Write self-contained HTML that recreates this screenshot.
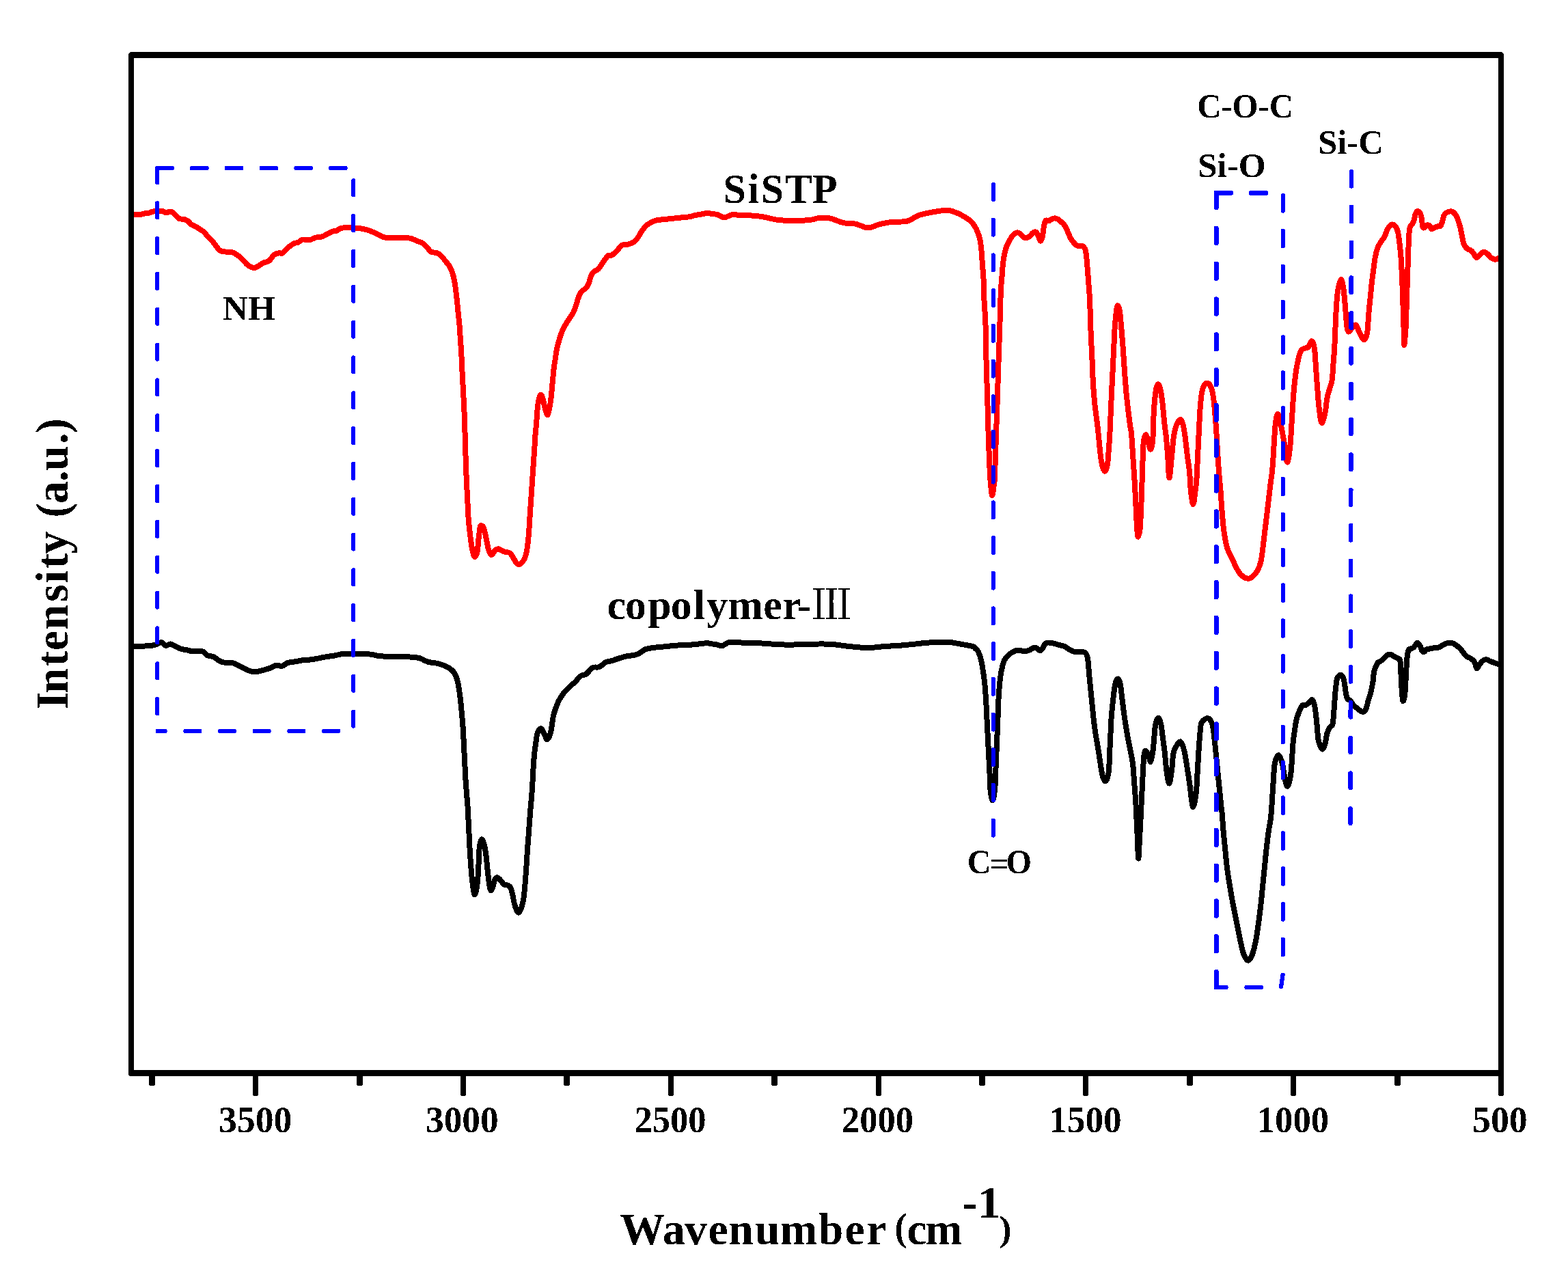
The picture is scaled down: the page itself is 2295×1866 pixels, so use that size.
<!DOCTYPE html>
<html><head><meta charset="utf-8"><title>FTIR spectra</title>
<style>html,body{margin:0;padding:0;background:#fff;}svg{display:block;}</style>
</head><body>
<svg width="2295" height="1866" viewBox="0 0 2295 1866">
<defs><filter id="aa" filterUnits="userSpaceOnUse" x="0" y="0" width="2295" height="1866" color-interpolation-filters="sRGB"><feComponentTransfer><feFuncA type="discrete" tableValues="0 1"/></feComponentTransfer></filter></defs>
<rect x="0" y="0" width="2295" height="1866" fill="#fff"/>
<path d="M191,314.2C193.17,314.2 200.65,314.48 204,314.2C207.35,313.92 208.75,312.92 211.1,312.5C213.45,312.08 216.07,312.17 218.1,311.7C220.13,311.23 220.65,310.2 223.3,309.7C225.95,309.2 231.43,308.78 234,308.7C236.57,308.62 237.13,308.73 238.7,309.2C240.27,309.67 241.83,311.42 243.4,311.5C244.97,311.58 246.7,309.93 248.1,309.7C249.5,309.47 250.25,309.17 251.8,310.1C253.35,311.03 255.68,313.65 257.4,315.3C259.12,316.95 260.07,319.07 262.1,320C264.13,320.93 267.42,320.28 269.6,320.9C271.78,321.52 273.48,322.45 275.2,323.7C276.92,324.95 277.87,326.98 279.9,328.4C281.93,329.82 285.22,330.95 287.4,332.2C289.58,333.45 291.12,334.67 293,335.9C294.88,337.13 296.98,338.03 298.7,339.6C300.42,341.17 301.28,343.1 303.3,345.3C305.32,347.5 308.6,350.3 310.8,352.8C313,355.3 314.78,358.12 316.5,360.3C318.22,362.48 319.7,364.65 321.1,365.9C322.5,367.15 323.02,367.33 324.9,367.8C326.78,368.27 330.22,368.55 332.4,368.7C334.58,368.85 335.97,368.23 338,368.7C340.03,369.17 342.42,370.25 344.6,371.5C346.78,372.75 349.08,374.48 351.1,376.2C353.12,377.92 354.67,379.77 356.7,381.8C358.73,383.83 360.8,386.68 363.3,388.4C365.8,390.12 369.2,391.95 371.7,392.1C374.2,392.25 375.95,390.55 378.3,389.3C380.65,388.05 383.18,385.9 385.8,384.6C388.42,383.3 391.45,383.42 394,381.5C396.55,379.58 398.75,374.97 401.1,373.1C403.45,371.23 406,370.77 408.1,370.3C410.2,369.83 411.35,371.72 413.7,370.3C416.05,368.88 419.38,364.15 422.2,361.8C425.02,359.45 428.27,357.37 430.6,356.2C432.93,355.03 434.1,355.73 436.2,354.8C438.3,353.87 440.38,351.18 443.2,350.6C446.02,350.02 450.05,351.77 453.1,351.3C456.15,350.83 458.47,348.62 461.5,347.8C464.53,346.98 468.48,347.22 471.3,346.4C474.12,345.58 475.82,344.2 478.4,342.9C480.98,341.6 484.47,339.43 486.8,338.6C489.13,337.77 490.53,338.6 492.4,337.9C494.27,337.2 495.65,335.22 498,334.4C500.35,333.58 503.92,333.23 506.5,333C509.08,332.77 510.93,332.88 513.5,333C516.07,333.12 518.87,333.35 521.9,333.7C524.93,334.05 528.42,334.4 531.7,335.1C534.98,335.8 538.32,336.72 541.6,337.9C544.88,339.08 548.12,340.67 551.4,342.2C554.68,343.73 558.02,346.17 561.3,347.1C564.58,348.03 567.37,347.68 571.1,347.8C574.83,347.92 579.95,347.8 583.7,347.8C587.45,347.8 590.55,347.57 593.6,347.8C596.65,348.03 599.2,348.38 602,349.2C604.8,350.02 607.58,351.53 610.4,352.7C613.22,353.87 616.32,354.45 618.9,356.2C621.48,357.95 623.8,361.1 625.9,363.2C628,365.3 629.17,367.62 631.5,368.8C633.83,369.98 637.32,369.12 639.9,370.3C642.48,371.48 644.88,373.8 647,375.9C649.12,378 650.73,380.55 652.6,382.9C654.47,385.25 656.57,387.18 658.2,390C659.83,392.82 661.17,395.83 662.4,399.8C663.63,403.77 664.62,408 665.6,413.8C666.58,419.6 667.5,427.68 668.3,434.6C669.1,441.52 669.7,448.4 670.4,455.3C671.1,462.2 671.92,469.08 672.5,476C673.08,482.92 673.43,489.88 673.9,496.8C674.37,503.72 674.92,510.58 675.3,517.5C675.68,524.42 675.87,531.38 676.2,538.3C676.53,545.22 676.93,552.1 677.3,559C677.67,565.9 678.05,572.78 678.4,579.7C678.75,586.62 679.1,593.62 679.4,600.5C679.7,607.38 679.95,613.13 680.2,621C680.45,628.87 680.63,638.65 680.9,647.7C681.17,656.75 681.48,666.08 681.8,675.3C682.12,684.52 682.4,693.78 682.8,703C683.2,712.22 683.73,721.38 684.2,730.6C684.67,739.82 685.02,750.23 685.6,758.3C686.18,766.37 686.9,772.1 687.7,779C688.5,785.9 689.48,794.17 690.4,799.7C691.32,805.23 692.32,809.75 693.2,812.2C694.08,814.65 694.78,815.33 695.7,814.4C696.62,813.47 697.85,811.35 698.7,806.6C699.55,801.85 700.1,791.88 700.8,785.9C701.5,779.92 702.22,773.48 702.9,770.7C703.58,767.92 704.1,768.97 704.9,769.2C705.7,769.43 706.65,769.32 707.7,772.1C708.75,774.88 710.05,780.83 711.2,785.9C712.35,790.97 713.45,798.23 714.6,802.5C715.75,806.77 717.07,810.12 718.1,811.5C719.13,812.88 719.65,811.83 720.8,810.8C721.95,809.77 723.62,806.57 725,805.3C726.38,804.03 727.48,803.08 729.1,803.2C730.72,803.32 732.85,805.2 734.7,806C736.55,806.8 738.25,807.43 740.2,808C742.15,808.57 744.57,808.02 746.4,809.4C748.23,810.78 749.7,814 751.2,816.3C752.7,818.6 754.02,821.57 755.4,823.2C756.78,824.83 757.88,826.33 759.5,826.1C761.12,825.87 763.48,823.88 765.1,821.8C766.72,819.72 768.05,817.28 769.2,813.6C770.35,809.92 771.18,805.47 772,799.7C772.82,793.93 773.53,785.9 774.1,779C774.67,772.1 774.95,765.22 775.4,758.3C775.85,751.38 776.33,744.42 776.8,737.5C777.27,730.58 777.73,723.72 778.2,716.8C778.67,709.88 779.13,702.92 779.6,696C780.07,689.08 780.53,682.2 781,675.3C781.47,668.4 781.95,661.52 782.4,654.6C782.85,647.68 783.25,639.57 783.7,633.8C784.15,628.03 784.63,625.55 785.1,620C785.57,614.45 785.93,606.33 786.5,600.5C787.07,594.67 787.62,588.83 788.5,585C789.38,581.17 790.72,577.5 791.8,577.5C792.88,577.5 794.05,581.75 795,585C795.95,588.25 796.37,593.35 797.5,597C798.63,600.65 800.4,608.5 801.8,606.9C803.2,605.3 804.75,595.27 805.9,587.4C807.05,579.53 807.9,567.77 808.7,559.7C809.5,551.63 810.02,544.75 810.7,539C811.38,533.25 812.1,529.82 812.8,525.2C813.5,520.58 814.08,515.45 814.9,511.3C815.72,507.15 816.67,503.98 817.7,500.3C818.73,496.62 819.83,492.67 821.1,489.2C822.37,485.73 823.8,482.5 825.3,479.5C826.8,476.5 828.38,473.95 830.1,471.2C831.82,468.45 833.98,465.53 835.6,463C837.22,460.47 838.53,458.77 839.8,456C841.07,453.23 842.05,449.85 843.2,446.4C844.35,442.95 845.43,438.53 846.7,435.3C847.97,432.07 848.97,429.3 850.8,427C852.63,424.7 855.85,423.57 857.7,421.5C859.55,419.43 860.73,417.37 861.9,414.6C863.07,411.83 863.55,407.67 864.7,404.9C865.85,402.13 866.97,399.85 868.8,398C870.63,396.15 873.08,396.63 875.7,393.8C878.32,390.97 882.07,384.3 884.5,381C886.93,377.7 888.47,375.25 890.3,374C892.13,372.75 893.27,374.8 895.5,373.5C897.73,372.2 901.3,368.62 903.7,366.2C906.1,363.78 907.67,360.37 909.9,359C912.13,357.63 914.7,358.52 917.1,358C919.5,357.48 922.07,356.93 924.3,355.9C926.53,354.87 928.62,353.68 930.5,351.8C932.38,349.92 934.05,347 935.6,344.6C937.15,342.2 938.08,339.8 939.8,337.4C941.52,335 943.85,332.08 945.9,330.2C947.95,328.32 949.68,327.38 952.1,326.1C954.52,324.82 957.65,323.28 960.4,322.5C963.15,321.72 965.52,321.75 968.6,321.4C971.68,321.05 975.63,320.73 978.9,320.4C982.17,320.07 984.93,319.75 988.2,319.4C991.47,319.05 995.07,318.65 998.5,318.3C1001.93,317.95 1005.72,317.82 1008.8,317.3C1011.88,316.78 1014.08,315.83 1017,315.2C1019.92,314.57 1023.37,314 1026.3,313.5C1029.23,313 1031.85,312.3 1034.6,312.2C1037.35,312.1 1040.23,312.57 1042.8,312.9C1045.37,313.23 1047.25,313.3 1050,314.2C1052.75,315.1 1056.72,317.9 1059.3,318.3C1061.88,318.7 1063.43,317.28 1065.5,316.6C1067.57,315.92 1069.13,314.52 1071.7,314.2C1074.27,313.88 1077.47,314.57 1080.9,314.7C1084.33,314.83 1086.68,314.62 1092.3,315C1097.92,315.38 1106.78,315.83 1114.6,317C1122.42,318.17 1131,321.03 1139.2,322C1147.4,322.97 1156.15,322.8 1163.8,322.8C1171.45,322.8 1179.37,322.6 1185.1,322C1190.83,321.4 1193.28,319.62 1198.2,319.2C1203.12,318.78 1208.58,318.35 1214.6,319.5C1220.62,320.65 1228.02,324.73 1234.3,326.1C1240.58,327.47 1246.3,326.48 1252.3,327.7C1258.3,328.92 1264.57,333.27 1270.3,333.4C1276.03,333.53 1281.23,329.87 1286.7,328.5C1292.17,327.13 1296.27,326.02 1303.1,325.2C1309.93,324.38 1320.87,325.23 1327.7,323.6C1334.53,321.97 1338.63,317.45 1344.1,315.4C1349.57,313.35 1354.22,312.53 1360.5,311.3C1366.78,310.07 1376.33,308.4 1381.8,308C1387.27,307.6 1388.38,307.4 1393.3,308.9C1398.22,310.4 1406.12,313.87 1411.3,317C1416.48,320.13 1420.85,323.18 1424.4,327.7C1427.95,332.22 1430.68,338.63 1432.6,344.1C1434.52,349.57 1435,353.15 1435.9,360.5C1436.8,367.85 1437.37,379.75 1438,388.2C1438.63,396.65 1439.33,403.57 1439.7,411.2C1440.07,418.83 1439.73,423.3 1440.2,434C1440.67,444.7 1441.93,459.28 1442.5,475.4C1443.07,491.52 1443.13,512.27 1443.6,530.7C1444.07,549.13 1444.77,567.55 1445.3,586C1445.83,604.45 1446.25,624.48 1446.8,641.4C1447.35,658.32 1448.02,675.73 1448.6,687.5C1449.18,699.27 1449.68,705.75 1450.3,712C1450.92,718.25 1451.6,725 1452.3,725C1453,725 1453.88,716.7 1454.5,712C1455.12,707.3 1455.45,708.57 1456,696.8C1456.55,685.03 1457.18,659.87 1457.8,641.4C1458.42,622.93 1459.08,604.45 1459.7,586C1460.32,567.55 1460.88,549.13 1461.5,530.7C1462.12,512.27 1462.92,490.52 1463.4,475.4C1463.88,460.28 1464.1,449.07 1464.4,440C1464.7,430.93 1464.85,426.87 1465.2,421C1465.55,415.13 1466.08,410.18 1466.5,404.8C1466.92,399.42 1467.23,393.4 1467.7,388.7C1468.17,384 1468.7,380.23 1469.3,376.6C1469.9,372.97 1470.57,369.72 1471.3,366.9C1472.03,364.08 1472.77,361.98 1473.7,359.7C1474.63,357.42 1475.82,355.22 1476.9,353.2C1477.98,351.18 1478.98,349.35 1480.2,347.6C1481.42,345.85 1482.73,343.92 1484.2,342.7C1485.67,341.48 1487.52,340.43 1489,340.3C1490.48,340.17 1491.62,340.82 1493.1,341.9C1494.58,342.98 1496.3,345.72 1497.9,346.8C1499.5,347.88 1501.08,348.67 1502.7,348.4C1504.32,348.13 1505.98,346.55 1507.6,345.2C1509.22,343.85 1510.92,341.18 1512.4,340.3C1513.88,339.42 1515.28,339.08 1516.5,339.9C1517.72,340.72 1518.7,343.12 1519.7,345.2C1520.7,347.28 1521.57,351.87 1522.5,352.4C1523.43,352.93 1524.57,350.68 1525.3,348.4C1526.03,346.12 1526.37,342.07 1526.9,338.7C1527.43,335.33 1527.82,330.88 1528.5,328.2C1529.18,325.52 1529.92,323.4 1531,322.6C1532.08,321.8 1533.67,323.67 1535,323.4C1536.33,323.13 1537.52,321.67 1539,321C1540.48,320.33 1542.28,319.4 1543.9,319.4C1545.52,319.4 1547.1,320.07 1548.7,321C1550.3,321.93 1552.02,323.67 1553.5,325C1554.98,326.33 1556.38,327.38 1557.6,329C1558.82,330.62 1559.73,332.55 1560.8,334.7C1561.87,336.85 1562.92,339.48 1564,341.9C1565.08,344.32 1566.08,347.05 1567.3,349.2C1568.52,351.35 1569.83,353.12 1571.3,354.8C1572.77,356.48 1574.48,358.48 1576.1,359.3C1577.72,360.12 1579.52,359.5 1581,359.7C1582.48,359.9 1583.8,359.7 1585,360.5C1586.2,361.3 1587.4,362.48 1588.2,364.5C1589,366.52 1589.33,369.23 1589.8,372.6C1590.27,375.97 1590.58,380 1591,384.7C1591.42,389.4 1591.88,395.43 1592.3,400.8C1592.72,406.17 1593.1,411.52 1593.5,416.9C1593.9,422.28 1594.35,426.82 1594.7,433.1C1595.05,439.38 1595.27,445.27 1595.6,454.6C1595.93,463.93 1596.23,477.58 1596.7,489.1C1597.17,500.62 1597.88,512.18 1598.4,523.7C1598.92,535.22 1599.22,547.65 1599.8,558.2C1600.38,568.75 1601.2,579.2 1601.9,587C1602.6,594.8 1603.32,599.5 1604,605C1604.68,610.5 1605.4,615.07 1606,620C1606.6,624.93 1606.75,626.42 1607.6,634.6C1608.45,642.78 1610.03,660.87 1611.1,669.1C1612.17,677.33 1612.95,680.58 1614,684C1615.05,687.42 1616.32,689.93 1617.4,689.6C1618.48,689.27 1619.73,685.42 1620.5,682C1621.27,678.58 1621.35,677 1622,669.1C1622.65,661.2 1623.82,644.45 1624.4,634.6C1624.98,624.75 1625.12,618.88 1625.5,610C1625.88,601.12 1626.22,591.85 1626.7,581.3C1627.18,570.75 1627.83,558.22 1628.4,546.7C1628.97,535.18 1629.53,523.72 1630.1,512.2C1630.67,500.68 1631.13,487.2 1631.8,477.6C1632.47,468 1633.42,459.68 1634.1,454.6C1634.78,449.52 1635.12,447.1 1635.9,447.1C1636.68,447.1 1637.93,449.52 1638.8,454.6C1639.67,459.68 1640.25,468 1641.1,477.6C1641.95,487.2 1643.05,500.68 1643.9,512.2C1644.75,523.72 1645.33,535.18 1646.2,546.7C1647.07,558.22 1647.85,569.08 1649.1,581.3C1650.35,593.52 1652.55,611.12 1653.7,620C1654.85,628.88 1655.23,626.42 1656,634.6C1656.77,642.78 1657.53,657.58 1658.3,669.1C1659.07,680.62 1659.92,692.18 1660.6,703.7C1661.28,715.22 1661.82,726.68 1662.4,738.2C1662.98,749.72 1663.53,764.88 1664.1,772.8C1664.67,780.72 1665.03,785.7 1665.8,785.7C1666.57,785.7 1667.93,780.72 1668.7,772.8C1669.47,764.88 1669.92,749.72 1670.4,738.2C1670.88,726.68 1671.22,715.22 1671.6,703.7C1671.98,692.18 1672.32,678.7 1672.7,669.1C1673.08,659.5 1673.22,651.57 1673.9,646.1C1674.58,640.63 1675.75,636.68 1676.8,636.3C1677.85,635.92 1679.05,640.25 1680.2,643.8C1681.35,647.35 1682.55,657.22 1683.7,657.6C1684.85,657.98 1686.38,652.37 1687.1,646.1C1687.82,639.83 1687.6,628.88 1688,620C1688.4,611.12 1688.83,601.13 1689.5,592.8C1690.17,584.47 1691.05,575.08 1692,570C1692.95,564.92 1694.12,562.3 1695.2,562.3C1696.28,562.3 1697.45,565.38 1698.5,570C1699.55,574.62 1700.52,581.67 1701.5,590C1702.48,598.33 1703.5,611.67 1704.4,620C1705.3,628.33 1706.1,631.97 1706.9,640C1707.7,648.03 1708.43,658.3 1709.2,668.2C1709.97,678.1 1710.53,699.4 1711.5,699.4C1712.47,699.4 1713.93,678.2 1715,668.2C1716.07,658.2 1716.75,647.07 1717.9,639.4C1719.05,631.73 1720.28,626.42 1721.9,622.2C1723.52,617.98 1725.97,614.1 1727.6,614.1C1729.23,614.1 1730.53,617.98 1731.7,622.2C1732.87,626.42 1733.55,631.73 1734.6,639.4C1735.65,647.07 1736.93,659.77 1738,668.2C1739.07,676.63 1740.17,681.47 1741,690C1741.83,698.53 1742.1,711.4 1743,719.4C1743.9,727.4 1745.33,738 1746.4,738C1747.47,738 1748.58,725.27 1749.4,719.4C1750.22,713.53 1750.7,711.33 1751.3,702.8C1751.9,694.27 1752.43,679.72 1753,668.2C1753.57,656.68 1754.12,645.22 1754.7,633.7C1755.28,622.18 1755.82,608.7 1756.5,599.1C1757.18,589.5 1757.75,582.05 1758.8,576.1C1759.85,570.15 1761.27,565.9 1762.8,563.4C1764.33,560.9 1766.37,560.52 1768,561.1C1769.63,561.68 1771.27,563.45 1772.6,566.9C1773.93,570.35 1775.05,575.47 1776,581.8C1776.95,588.13 1777.62,597.22 1778.3,604.9C1778.98,612.58 1779.52,619.27 1780.1,627.9C1780.68,636.53 1781.13,646.13 1781.8,656.7C1782.47,667.27 1783.3,680.85 1784.1,691.3C1784.9,701.75 1785.85,709.82 1786.6,719.4C1787.35,728.98 1787.78,739.02 1788.6,748.8C1789.42,758.58 1790.2,769.13 1791.5,778.1C1792.8,787.07 1794.43,796.07 1796.4,802.6C1798.37,809.13 1801.02,812.4 1803.3,817.3C1805.58,822.2 1807.82,827.92 1810.1,832C1812.38,836.08 1814.38,839.35 1817,841.8C1819.62,844.25 1823.03,846.37 1825.8,846.7C1828.57,847.03 1831.15,845.75 1833.6,843.8C1836.05,841.85 1838.53,838.6 1840.5,835C1842.47,831.4 1844.1,827.6 1845.4,822.2C1846.7,816.8 1847.33,809.95 1848.3,802.6C1849.27,795.25 1850.22,786.25 1851.2,778.1C1852.18,769.95 1853.22,761.85 1854.2,753.7C1855.18,745.55 1856.13,737.37 1857.1,729.2C1858.07,721.03 1859.18,711.23 1860,704.7C1860.82,698.17 1861.4,696 1862,690C1862.6,684 1863,677.77 1863.6,668.7C1864.2,659.63 1864.95,644.55 1865.6,635.6C1866.25,626.65 1866.62,619.87 1867.5,615C1868.38,610.13 1869.45,604.08 1870.9,606.4C1872.35,608.72 1874.55,620.73 1876.2,628.9C1877.85,637.07 1879.48,647.45 1880.8,655.4C1882.12,663.35 1882.88,676.6 1884.1,676.6C1885.32,676.6 1886.98,665.55 1888.1,655.4C1889.22,645.25 1889.92,628.93 1890.8,615.7C1891.68,602.47 1892.52,587.03 1893.4,576C1894.28,564.97 1895.1,557.23 1896.1,549.5C1897.1,541.77 1898.08,535.57 1899.4,529.6C1900.72,523.63 1902.35,517.02 1904,513.7C1905.65,510.38 1907.53,510.58 1909.3,509.7C1911.07,508.82 1912.83,510.17 1914.6,508.4C1916.37,506.63 1918.35,498.88 1919.9,499.1C1921.45,499.32 1922.9,503.52 1923.9,509.7C1924.9,515.88 1925.25,527.37 1925.9,536.2C1926.55,545.03 1927.03,552.77 1927.8,562.7C1928.57,572.63 1929.38,586.42 1930.5,595.8C1931.62,605.18 1932.95,617.88 1934.5,619C1936.05,620.12 1938.48,608.57 1939.8,602.5C1941.12,596.43 1941.3,588.35 1942.4,582.6C1943.5,576.85 1945.18,572.42 1946.4,568C1947.62,563.58 1948.82,562.5 1949.7,556.1C1950.58,549.7 1951.12,537.28 1951.7,529.6C1952.28,521.92 1952.75,518.05 1953.2,510C1953.65,501.95 1953.92,491.85 1954.4,481.3C1954.88,470.75 1955.43,456.3 1956.1,446.7C1956.77,437.1 1957.25,430.03 1958.4,423.7C1959.55,417.37 1961.65,408.7 1963,408.7C1964.35,408.7 1965.53,417.37 1966.5,423.7C1967.47,430.03 1968.03,438.07 1968.8,446.7C1969.57,455.33 1970.33,469.07 1971.1,475.5C1971.87,481.93 1972.25,484.33 1973.4,485.3C1974.55,486.27 1976.17,482.93 1978,481.3C1979.83,479.67 1982.48,474.73 1984.4,475.5C1986.32,476.27 1987.48,482.25 1989.5,485.9C1991.52,489.55 1994.57,497.22 1996.5,497.4C1998.43,497.58 1999.95,493.53 2001.1,487C2002.25,480.47 2002.63,466.83 2003.4,458.2C2004.17,449.57 2004.93,442.87 2005.7,435.2C2006.47,427.53 2007.23,418.92 2008,412.2C2008.77,405.48 2009.53,400.67 2010.3,394.9C2011.07,389.13 2011.65,382.78 2012.6,377.6C2013.55,372.42 2014.67,367.63 2016,363.8C2017.33,359.97 2018.87,357.48 2020.6,354.6C2022.33,351.72 2024.67,349.77 2026.4,346.5C2028.13,343.23 2029.27,337.98 2031,335C2032.73,332.02 2034.88,329.18 2036.8,328.6C2038.72,328.02 2040.97,329.67 2042.5,331.5C2044.03,333.33 2045.03,335.75 2046,339.6C2046.97,343.45 2047.53,348.27 2048.3,354.6C2049.07,360.93 2049.93,368 2050.6,377.6C2051.27,387.2 2051.82,400.68 2052.3,412.2C2052.78,423.72 2053.12,435.18 2053.5,446.7C2053.88,458.22 2054.32,471.6 2054.6,481.3C2054.88,491 2054.72,504.9 2055.2,504.9C2055.68,504.9 2056.92,491 2057.5,481.3C2058.08,471.6 2058.32,458.22 2058.7,446.7C2059.08,435.18 2059.42,423.72 2059.8,412.2C2060.18,400.68 2060.63,387.97 2061,377.6C2061.37,367.23 2061.58,357.43 2062,350C2062.42,342.57 2062.63,336.67 2063.5,333C2064.37,329.33 2066.15,329.92 2067.2,328C2068.25,326.08 2069.03,324 2069.8,321.5C2070.57,319 2070.92,315.08 2071.8,313C2072.68,310.92 2073.9,309 2075.1,309C2076.3,309 2078.02,310.92 2079,313C2079.98,315.08 2080.45,318.33 2081,321.5C2081.55,324.67 2081.75,330.03 2082.3,332C2082.85,333.97 2083.2,333.75 2084.3,333.3C2085.4,332.85 2087.48,329.73 2088.9,329.3C2090.32,328.87 2091.72,329.72 2092.8,330.7C2093.88,331.68 2094.32,334.77 2095.4,335.2C2096.48,335.63 2097.77,333.95 2099.3,333.3C2100.83,332.65 2103.07,331.73 2104.6,331.3C2106.13,330.87 2107.42,331.9 2108.5,330.7C2109.58,329.5 2110.33,326.52 2111.1,324.1C2111.87,321.68 2112.22,318.28 2113.1,316.2C2113.98,314.12 2115.08,312.68 2116.4,311.6C2117.72,310.52 2119.47,310.02 2121,309.7C2122.53,309.38 2124.18,309.15 2125.6,309.7C2127.02,310.25 2128.3,311.47 2129.5,313C2130.7,314.53 2131.82,316.72 2132.8,318.9C2133.78,321.08 2134.53,323.27 2135.4,326.1C2136.27,328.93 2137.23,332.63 2138,335.9C2138.77,339.17 2139.33,342.42 2140,345.7C2140.67,348.98 2141.23,353.08 2142,355.6C2142.77,358.12 2143.52,359.27 2144.6,360.8C2145.68,362.33 2147.08,363.82 2148.5,364.8C2149.92,365.78 2151.68,365.62 2153.1,366.7C2154.52,367.78 2155.68,369.55 2157,371.3C2158.32,373.05 2159.57,376.87 2161,377.2C2162.43,377.53 2163.85,374.72 2165.6,373.3C2167.35,371.88 2169.65,369.03 2171.5,368.7C2173.35,368.37 2174.85,369.88 2176.7,371.3C2178.55,372.72 2180.63,375.78 2182.6,377.2C2184.57,378.62 2186.75,379.68 2188.5,379.8C2190.25,379.92 2191.68,378.62 2193.1,377.9C2194.52,377.18 2196.35,375.9 2197,375.5" fill="none" stroke="#FF0000" stroke-width="8" stroke-linejoin="round" stroke-linecap="butt" shape-rendering="crispEdges"/>
<path d="M192,945.6C194.72,945.6 203.57,945.7 208.3,945.6C213.03,945.5 216.95,945.42 220.4,945C223.85,944.58 226.35,943.92 229,943.1C231.65,942.28 234.07,939.78 236.3,940.1C238.53,940.42 240.17,944.6 242.4,945C244.63,945.4 247.27,942.3 249.7,942.5C252.13,942.7 254.37,944.98 257,946.2C259.63,947.42 262.47,948.88 265.5,949.8C268.53,950.72 272.37,951.08 275.2,951.7C278.03,952.32 279.05,953.27 282.5,953.5C285.95,953.73 292.45,952.18 295.9,953.1C299.35,954.02 300.35,957.62 303.2,959C306.05,960.38 309.95,959.98 313,961.4C316.05,962.82 318.67,966.08 321.5,967.5C324.33,968.92 326.95,969.5 330,969.9C333.05,970.3 336.35,969.08 339.8,969.9C343.25,970.72 346.85,972.97 350.7,974.8C354.55,976.63 359.23,979.48 362.9,980.9C366.57,982.32 369.05,983.3 372.7,983.3C376.35,983.3 380.75,981.92 384.8,980.9C388.85,979.88 393.75,978.42 397,977.2C400.25,975.98 401.67,974 404.3,973.6C406.93,973.2 409.95,975.42 412.8,974.8C415.65,974.18 417.95,971.02 421.4,969.9C424.85,968.78 429.45,968.8 433.5,968.1C437.55,967.4 442.58,966.1 445.7,965.7C448.82,965.3 449.08,966.02 452.2,965.7C455.32,965.38 460.35,964.52 464.4,963.8C468.45,963.08 472.45,962.1 476.5,961.4C480.55,960.7 484.63,960.32 488.7,959.6C492.77,958.88 497.65,957.62 500.9,957.1C504.15,956.58 504.15,956.5 508.2,956.5C512.25,956.5 519.32,956.9 525.2,957.1C531.08,957.3 538.42,957.18 543.5,957.7C548.58,958.22 550.63,959.68 555.7,960.2C560.77,960.72 566.8,960.6 573.9,960.8C581,961 591.6,961 598.3,961.4C605,961.8 609.43,961.98 614.1,963.2C618.77,964.42 621.83,967.38 626.3,968.7C630.77,970.02 636.23,969.88 640.9,971.1C645.57,972.32 650.65,974.17 654.3,976C657.95,977.83 660.57,979.67 662.8,982.1C665.03,984.53 666.43,987.62 667.7,990.6C668.97,993.58 669.38,994.6 670.4,1000C671.42,1005.4 672.85,1015.32 673.8,1023C674.75,1030.68 675.42,1038.42 676.1,1046.1C676.78,1053.78 677.42,1061.42 677.9,1069.1C678.38,1076.78 678.62,1084.52 679,1092.2C679.38,1099.88 679.82,1107.53 680.2,1115.2C680.58,1122.87 680.83,1130.52 681.3,1138.2C681.77,1145.88 682.47,1154.33 683,1161.3C683.53,1168.27 683.98,1171.7 684.5,1180C685.02,1188.3 685.58,1200.73 686.1,1211.1C686.62,1221.47 687,1231.83 687.6,1242.2C688.2,1252.57 689,1264.65 689.7,1273.3C690.4,1281.95 690.93,1288.05 691.8,1294.1C692.67,1300.15 693.78,1309.6 694.9,1309.6C696.02,1309.6 697.63,1300.15 698.5,1294.1C699.37,1288.05 699.67,1280.22 700.1,1273.3C700.53,1266.38 700.77,1258.65 701.1,1252.6C701.43,1246.55 701.4,1241.07 702.1,1237C702.8,1232.93 704.17,1228.2 705.3,1228.2C706.43,1228.2 707.87,1232.93 708.9,1237C709.93,1241.07 710.72,1246.55 711.5,1252.6C712.28,1258.65 712.83,1266.38 713.6,1273.3C714.37,1280.22 715.25,1289.08 716.1,1294.1C716.95,1299.12 717.65,1303.4 718.7,1303.4C719.75,1303.4 721.45,1296.87 722.4,1294.1C723.35,1291.33 723.45,1288.45 724.4,1286.8C725.35,1285.15 726.8,1284.03 728.1,1284.2C729.4,1284.37 730.65,1286.15 732.2,1287.8C733.75,1289.45 735.67,1292.8 737.4,1294.1C739.13,1295.4 741.05,1294.92 742.6,1295.6C744.15,1296.28 745.5,1296.22 746.7,1298.2C747.9,1300.18 748.75,1303.35 749.8,1307.5C750.85,1311.65 751.95,1319.02 753,1323.1C754.05,1327.18 755.07,1329.93 756.1,1332C757.13,1334.07 758,1336.12 759.2,1335.5C760.4,1334.88 762.1,1331.75 763.3,1328.3C764.5,1324.85 765.53,1320.5 766.4,1314.8C767.27,1309.1 767.88,1301.02 768.5,1294.1C769.12,1287.18 769.5,1281.95 770.1,1273.3C770.7,1264.65 771.5,1250.83 772.1,1242.2C772.7,1233.57 773.18,1228.42 773.7,1221.5C774.22,1214.58 774.68,1207.62 775.2,1200.7C775.72,1193.78 776.42,1184.65 776.8,1180C777.18,1175.35 777.1,1177.83 777.5,1172.8C777.9,1167.77 778.72,1157.48 779.2,1149.8C779.68,1142.12 779.92,1134.38 780.4,1126.7C780.88,1119.02 781.43,1110.42 782.1,1103.7C782.77,1096.98 783.63,1091.58 784.4,1086.4C785.17,1081.22 785.45,1075.97 786.7,1072.6C787.95,1069.23 790.27,1066.02 791.9,1066.2C793.53,1066.38 795.05,1071 796.5,1073.7C797.95,1076.4 799.15,1082.2 800.6,1082.4C802.05,1082.6 804.05,1078.07 805.2,1074.9C806.35,1071.73 806.73,1067.82 807.5,1063.4C808.27,1058.98 808.85,1052.82 809.8,1048.4C810.75,1043.98 812.05,1040.3 813.2,1036.9C814.35,1033.5 815.37,1030.83 816.7,1028C818.03,1025.17 819.5,1022.55 821.2,1019.9C822.9,1017.25 824.65,1014.72 826.9,1012.1C829.15,1009.48 832.08,1006.65 834.7,1004.2C837.32,1001.75 840.17,999.83 842.6,997.4C845.03,994.97 846.68,991.47 849.3,989.6C851.92,987.73 855.3,988.27 858.3,986.2C861.3,984.13 864.12,978.88 867.3,977.2C870.48,975.52 874.22,977.42 877.4,976.1C880.58,974.78 883.4,970.8 886.4,969.3C889.4,967.8 892.22,968.03 895.4,967.1C898.58,966.17 901.93,964.82 905.5,963.7C909.07,962.58 912.85,961.23 916.8,960.4C920.75,959.57 926.02,959.45 929.2,958.7C932.38,957.95 933.28,957.32 935.9,955.9C938.52,954.48 941.53,951.52 944.9,950.2C948.27,948.88 951.42,948.65 956.1,948C960.78,947.35 967.37,946.87 973,946.3C978.63,945.73 984.28,944.98 989.9,944.6C995.52,944.22 1001.08,944.37 1006.7,944C1012.32,943.63 1018.92,942.87 1023.6,942.4C1028.28,941.93 1032.07,941.25 1034.8,941.2C1037.53,941.15 1037.57,941.73 1040,942.1C1042.43,942.47 1046.58,942.87 1049.4,943.4C1052.22,943.93 1053.78,945.92 1056.9,945.3C1060.02,944.68 1063.12,940.48 1068.1,939.7C1073.08,938.92 1079,940.3 1086.8,940.6C1094.6,940.9 1105.53,941.03 1114.9,941.5C1124.27,941.97 1133.63,943.08 1143,943.4C1152.37,943.72 1161.72,943.55 1171.1,943.4C1180.48,943.25 1191.48,942.58 1199.3,942.5C1207.12,942.42 1211.77,942.43 1218,942.9C1224.23,943.37 1230.45,944.58 1236.7,945.3C1242.95,946.02 1249.57,946.73 1255.5,947.2C1261.43,947.67 1266.07,948.27 1272.3,948.1C1278.53,947.93 1284.78,946.82 1292.9,946.2C1301.02,945.58 1313.18,945.02 1321,944.4C1328.82,943.78 1333.55,943.13 1339.8,942.5C1346.05,941.87 1350.7,941.07 1358.5,940.6C1366.3,940.13 1378.8,939.38 1386.6,939.7C1394.4,940.02 1399.05,941.42 1405.3,942.5C1411.55,943.58 1420.32,945.03 1424.1,946.2C1427.88,947.37 1426.68,948.2 1428,949.5C1429.32,950.8 1430.67,951.25 1432,954C1433.33,956.75 1434.92,961.68 1436,966C1437.08,970.32 1437.63,974.28 1438.5,979.9C1439.37,985.52 1440.42,991.98 1441.2,999.7C1441.98,1007.42 1442.65,1017.37 1443.2,1026.2C1443.75,1035.03 1444.07,1043.87 1444.5,1052.7C1444.93,1061.53 1445.35,1070.37 1445.8,1079.2C1446.25,1088.03 1446.75,1096.87 1447.2,1105.7C1447.65,1114.53 1448.07,1123.37 1448.5,1132.2C1448.93,1141.03 1449.03,1152.18 1449.8,1158.7C1450.57,1165.22 1452,1172.42 1453.1,1171.3C1454.2,1170.18 1455.63,1160.72 1456.4,1152C1457.17,1143.28 1457.25,1130.03 1457.7,1119C1458.15,1107.97 1458.65,1096.85 1459.1,1085.8C1459.55,1074.75 1459.97,1063.73 1460.4,1052.7C1460.83,1041.67 1461.18,1028.88 1461.7,1019.6C1462.22,1010.32 1462.92,1002.85 1463.5,997C1464.08,991.15 1464.57,988.2 1465.2,984.5C1465.83,980.8 1466.55,977.75 1467.3,974.8C1468.05,971.85 1468.5,969.22 1469.7,966.8C1470.9,964.38 1472.75,962.18 1474.5,960.3C1476.25,958.42 1478.18,956.83 1480.2,955.5C1482.22,954.17 1484.32,952.83 1486.6,952.3C1488.88,951.77 1491.62,952.17 1493.9,952.3C1496.18,952.43 1498.15,953.23 1500.3,953.1C1502.45,952.97 1504.92,952.25 1506.8,951.5C1508.68,950.75 1509.98,949.15 1511.6,948.6C1513.22,948.05 1514.75,947.58 1516.5,948.2C1518.25,948.82 1520.5,952.17 1522.1,952.3C1523.7,952.43 1524.88,950.62 1526.1,949C1527.32,947.38 1528.18,944 1529.4,942.6C1530.62,941.2 1531.67,940.87 1533.4,940.6C1535.13,940.33 1537.78,940.67 1539.8,941C1541.82,941.33 1543.35,942 1545.5,942.6C1547.65,943.2 1550.42,943.93 1552.7,944.6C1554.98,945.27 1557.18,945.6 1559.2,946.6C1561.22,947.6 1562.52,949.38 1564.8,950.6C1567.08,951.82 1570.2,953.35 1572.9,953.9C1575.6,954.45 1578.58,953.77 1581,953.9C1583.42,954.03 1585.8,953.9 1587.4,954.7C1589,955.5 1589.72,956.42 1590.6,958.7C1591.48,960.98 1592.15,964.1 1592.7,968.4C1593.25,972.7 1593.43,979.13 1593.9,984.5C1594.37,989.87 1594.97,995.22 1595.5,1000.6C1596.03,1005.98 1596.57,1011.42 1597.1,1016.8C1597.63,1022.18 1598.17,1027.53 1598.7,1032.9C1599.23,1038.27 1599.82,1044.48 1600.3,1049C1600.78,1053.52 1601.07,1055.83 1601.6,1060C1602.13,1064.17 1602.45,1067.4 1603.5,1074C1604.55,1080.6 1606.5,1090.92 1607.9,1099.6C1609.3,1108.28 1610.8,1119.7 1611.9,1126.1C1613,1132.5 1613.52,1135.13 1614.5,1138C1615.48,1140.87 1616.72,1143.3 1617.8,1143.3C1618.88,1143.3 1620.12,1140.87 1621,1138C1621.88,1135.13 1622.57,1132.43 1623.1,1126.1C1623.63,1119.77 1623.87,1107.2 1624.2,1100C1624.53,1092.8 1624.7,1091.13 1625.1,1082.9C1625.5,1074.67 1625.82,1061.35 1626.6,1050.6C1627.38,1039.85 1628.82,1026.83 1629.8,1018.4C1630.78,1009.97 1631.42,1004.17 1632.5,1000C1633.58,995.83 1635.13,993.4 1636.3,993.4C1637.47,993.4 1638.57,995.83 1639.5,1000C1640.43,1004.17 1640.82,1009.97 1641.9,1018.4C1642.98,1026.83 1644.52,1040.33 1646,1050.6C1647.48,1060.87 1649.32,1071.77 1650.8,1080C1652.28,1088.23 1653.67,1093.42 1654.9,1100C1656.13,1106.58 1657.32,1111.83 1658.2,1119.5C1659.08,1127.17 1659.53,1137.17 1660.2,1146C1660.87,1154.83 1661.65,1163.68 1662.2,1172.5C1662.75,1181.32 1663.07,1190.08 1663.5,1198.9C1663.93,1207.72 1664.35,1215.78 1664.8,1225.4C1665.25,1235.02 1665.65,1256.6 1666.2,1256.6C1666.75,1256.6 1667.55,1235.02 1668.1,1225.4C1668.65,1215.78 1669.05,1207.72 1669.5,1198.9C1669.95,1190.08 1670.37,1181.32 1670.8,1172.5C1671.23,1163.68 1671.67,1154.83 1672.1,1146C1672.53,1137.17 1672.95,1126.57 1673.4,1119.5C1673.85,1112.43 1674.23,1107.03 1674.8,1103.6C1675.37,1100.17 1675.7,1098.47 1676.8,1098.9C1677.9,1099.33 1680.2,1103.55 1681.4,1106.2C1682.6,1108.85 1683,1115.9 1684,1114.8C1685,1113.7 1686.52,1105.45 1687.4,1099.6C1688.28,1093.75 1688.65,1086.32 1689.3,1079.7C1689.95,1073.08 1690.3,1064.75 1691.3,1059.9C1692.3,1055.05 1693.97,1050.6 1695.3,1050.6C1696.63,1050.6 1698.2,1055.05 1699.3,1059.9C1700.4,1064.75 1701.02,1073.08 1701.9,1079.7C1702.78,1086.32 1703.72,1091.87 1704.6,1099.6C1705.48,1107.33 1706.1,1118.27 1707.2,1126.1C1708.3,1133.93 1709.87,1146.6 1711.2,1146.6C1712.53,1146.6 1714.2,1133.27 1715.2,1126.1C1716.2,1118.93 1716.22,1109.12 1717.2,1103.6C1718.18,1098.08 1719.32,1096.02 1721.1,1093C1722.88,1089.98 1725.87,1084.53 1727.9,1085.5C1729.93,1086.47 1731.7,1092.55 1733.3,1098.8C1734.9,1105.05 1736.18,1114.93 1737.5,1123C1738.82,1131.07 1740.08,1139.13 1741.2,1147.2C1742.32,1155.27 1743.3,1165.85 1744.2,1171.4C1745.1,1176.95 1745.5,1182.52 1746.6,1180.5C1747.7,1178.48 1749.78,1167.87 1750.8,1159.3C1751.82,1150.73 1752.08,1139.18 1752.7,1129.1C1753.32,1119.02 1753.9,1107.87 1754.5,1098.8C1755.1,1089.73 1755.6,1081.55 1756.3,1074.7C1757,1067.85 1756.78,1061.63 1758.7,1057.7C1760.62,1053.77 1765.18,1050.7 1767.8,1051.1C1770.42,1051.5 1772.8,1055.17 1774.4,1060.1C1776,1065.03 1776.48,1073.23 1777.4,1080.7C1778.32,1088.17 1779.08,1096.83 1779.9,1104.9C1780.72,1112.97 1781.5,1121.03 1782.3,1129.1C1783.1,1137.17 1783.9,1145.25 1784.7,1153.3C1785.5,1161.35 1786.45,1171.28 1787.1,1177.4C1787.75,1183.52 1788.02,1183.48 1788.6,1190C1789.18,1196.52 1789.83,1207.67 1790.6,1216.5C1791.37,1225.33 1792.32,1234.17 1793.2,1243C1794.08,1251.83 1794.78,1260.67 1795.9,1269.5C1797.02,1278.33 1798.47,1287.17 1799.9,1296C1801.33,1304.83 1802.85,1313.68 1804.5,1322.5C1806.15,1331.32 1808.03,1340.08 1809.8,1348.9C1811.57,1357.72 1813.33,1367.45 1815.1,1375.4C1816.87,1383.35 1818.42,1391.52 1820.4,1396.6C1822.38,1401.68 1824.9,1405.9 1827,1405.9C1829.1,1405.9 1831.12,1401.68 1833,1396.6C1834.88,1391.52 1836.75,1383.35 1838.3,1375.4C1839.85,1367.45 1841.08,1357.72 1842.3,1348.9C1843.52,1340.08 1844.62,1331.32 1845.6,1322.5C1846.58,1313.68 1847.32,1304.83 1848.2,1296C1849.08,1287.17 1850.02,1278.33 1850.9,1269.5C1851.78,1260.67 1852.52,1251.83 1853.5,1243C1854.48,1234.17 1855.68,1224.5 1856.8,1216.5C1857.92,1208.5 1859.22,1204.53 1860.2,1195C1861.18,1185.47 1861.88,1171.3 1862.7,1159.3C1863.52,1147.3 1864.3,1131.07 1865.1,1123C1865.9,1114.93 1866.38,1113.82 1867.5,1110.9C1868.62,1107.98 1870.23,1104.4 1871.8,1105.5C1873.37,1106.6 1875.57,1112.57 1876.9,1117.5C1878.23,1122.43 1878.58,1129.55 1879.8,1135.1C1881.02,1140.65 1882.73,1150.47 1884.2,1150.8C1885.67,1151.13 1887.53,1142.65 1888.6,1137.1C1889.67,1131.55 1889.95,1125.67 1890.6,1117.5C1891.25,1109.33 1891.77,1096.27 1892.5,1088.1C1893.23,1079.93 1894.18,1074.22 1895,1068.5C1895.82,1062.78 1896.35,1058.2 1897.4,1053.8C1898.45,1049.4 1899.83,1045.68 1901.3,1042.1C1902.77,1038.52 1904.57,1034.02 1906.2,1032.3C1907.83,1030.58 1909.47,1032.45 1911.1,1031.8C1912.73,1031.15 1914.45,1029.7 1916,1028.4C1917.55,1027.1 1919.1,1023.52 1920.4,1024C1921.7,1024.48 1922.9,1027.95 1923.8,1031.3C1924.7,1034.65 1925.13,1038.72 1925.8,1044.1C1926.47,1049.48 1927.15,1057.08 1927.8,1063.6C1928.45,1070.12 1928.48,1077.73 1929.7,1083.2C1930.92,1088.67 1933.47,1095.58 1935.1,1096.4C1936.73,1097.22 1938.28,1091.93 1939.5,1088.1C1940.72,1084.27 1941.25,1077.32 1942.4,1073.4C1943.55,1069.48 1945.08,1066.72 1946.4,1064.6C1947.72,1062.48 1949.4,1063.3 1950.3,1060.7C1951.2,1058.1 1951.32,1054.22 1951.8,1049C1952.28,1043.78 1952.75,1035.57 1953.2,1029.4C1953.65,1023.23 1954.12,1016.4 1954.5,1012C1954.88,1007.6 1955.03,1006.23 1955.5,1003C1955.97,999.77 1956.2,995.1 1957.3,992.6C1958.4,990.1 1960.6,988 1962.1,988C1963.6,988 1965.27,990.1 1966.3,992.6C1967.33,995.1 1967.73,999.55 1968.3,1003C1968.87,1006.45 1969.12,1010.08 1969.7,1013.3C1970.28,1016.52 1970.75,1020.33 1971.8,1022.3C1972.85,1024.27 1974.62,1023.67 1976,1025.1C1977.38,1026.53 1978.6,1029.17 1980.1,1030.9C1981.6,1032.63 1983.45,1034.15 1985,1035.5C1986.55,1036.85 1987.87,1037.95 1989.4,1039C1990.93,1040.05 1992.68,1041.72 1994.2,1041.8C1995.72,1041.88 1997.37,1041.13 1998.5,1039.5C1999.63,1037.87 2000.25,1034.58 2001,1032C2001.75,1029.42 2002.22,1026.63 2003,1024C2003.78,1021.37 2004.88,1019.18 2005.7,1016.2C2006.52,1013.22 2007.23,1009.47 2007.9,1006.1C2008.57,1002.73 2009.15,999.98 2009.7,996C2010.25,992.02 2010.48,985.65 2011.2,982.2C2011.92,978.75 2013.08,977.37 2014,975.3C2014.92,973.23 2015.43,971.18 2016.7,969.8C2017.97,968.42 2019.98,968.15 2021.6,967C2023.22,965.85 2024.9,964.28 2026.4,962.9C2027.9,961.52 2029.1,959.52 2030.6,958.7C2032.1,957.88 2033.9,957.77 2035.4,958C2036.9,958.23 2038.1,959.28 2039.6,960.1C2041.1,960.92 2042.92,962.1 2044.4,962.9C2045.88,963.7 2047.58,963.4 2048.5,964.9C2049.42,966.4 2049.55,967.87 2049.9,971.9C2050.25,975.93 2050.3,982.77 2050.6,989.1C2050.9,995.43 2051.23,1003.78 2051.7,1009.9C2052.17,1016.02 2052.67,1024.65 2053.4,1025.8C2054.13,1026.95 2055.42,1021.77 2056.1,1016.8C2056.78,1011.83 2057.08,1002.92 2057.5,996C2057.92,989.08 2058.25,981.05 2058.6,975.3C2058.95,969.55 2059.08,965.53 2059.6,961.5C2060.12,957.47 2060.77,953.1 2061.7,951.1C2062.63,949.1 2063.95,950.1 2065.2,949.5C2066.45,948.9 2067.67,948.92 2069.2,947.5C2070.73,946.08 2072.77,941.22 2074.4,941C2076.03,940.78 2077.8,944.23 2079,946.2C2080.2,948.17 2080.72,951.48 2081.6,952.8C2082.48,954.12 2083.2,954.53 2084.3,954.1C2085.4,953.67 2086.78,950.97 2088.2,950.2C2089.62,949.43 2090.95,949.83 2092.8,949.5C2094.65,949.17 2097.12,948.53 2099.3,948.2C2101.48,947.87 2103.7,948.27 2105.9,947.5C2108.1,946.73 2110.32,944.68 2112.5,943.6C2114.68,942.52 2116.82,941.43 2119,941C2121.18,940.57 2123.42,940.35 2125.6,941C2127.78,941.65 2130.13,943.48 2132.1,944.9C2134.07,946.32 2135.75,947.75 2137.4,949.5C2139.05,951.25 2140.47,953.53 2142,955.4C2143.53,957.27 2144.75,959.28 2146.6,960.7C2148.45,962.12 2151.13,962.48 2153.1,963.9C2155.07,965.32 2156.98,966.78 2158.4,969.2C2159.82,971.62 2160.4,977.85 2161.6,978.4C2162.8,978.95 2164.17,974.37 2165.6,972.5C2167.03,970.63 2168.57,968.42 2170.2,967.2C2171.83,965.98 2173.55,965.08 2175.4,965.2C2177.25,965.32 2179.22,967.07 2181.3,967.9C2183.38,968.73 2186.03,969.55 2187.9,970.2C2189.77,970.85 2190.98,971.33 2192.5,971.8C2194.02,972.27 2196.25,972.8 2197,973" fill="none" stroke="#000000" stroke-width="8" stroke-linejoin="round" stroke-linecap="butt" shape-rendering="crispEdges"/>
<g stroke="#0000FF" stroke-linecap="butt" fill="none">
</g>
<g fill="#0000FF" shape-rendering="crispEdges">
<rect x="227" y="242.95" width="27.8" height="6.3" rx="2.4"/><rect x="277.9" y="242.95" width="27.6" height="6.3" rx="2.4"/><rect x="328.7" y="242.95" width="27.6" height="6.3" rx="2.4"/><rect x="379.5" y="242.95" width="27.6" height="6.3" rx="2.4"/><rect x="430.3" y="242.95" width="27.6" height="6.3" rx="2.4"/><rect x="481.1" y="242.95" width="27.6" height="6.3" rx="2.4"/><rect x="227.15" y="242.8" width="6.3" height="27.4" rx="2.4"/><rect x="227.15" y="294.2" width="6.3" height="27" rx="2.4"/><rect x="227.15" y="346.05" width="6.3" height="27" rx="2.4"/><rect x="227.15" y="397.9" width="6.3" height="27" rx="2.4"/><rect x="227.15" y="449.75" width="6.3" height="27" rx="2.4"/><rect x="227.15" y="501.6" width="6.3" height="27" rx="2.4"/><rect x="227.15" y="553.45" width="6.3" height="27" rx="2.4"/><rect x="227.15" y="605.3" width="6.3" height="27" rx="2.4"/><rect x="227.15" y="657.15" width="6.3" height="27" rx="2.4"/><rect x="227.15" y="709" width="6.3" height="27" rx="2.4"/><rect x="227.15" y="760.85" width="6.3" height="27" rx="2.4"/><rect x="227.15" y="812.7" width="6.3" height="27" rx="2.4"/><rect x="227.15" y="864.55" width="6.3" height="27" rx="2.4"/><rect x="227.15" y="916.4" width="6.3" height="27" rx="2.4"/><rect x="227.15" y="968.25" width="6.3" height="27" rx="2.4"/><rect x="227.15" y="1020.1" width="6.3" height="27" rx="2.4"/><rect x="514.15" y="261.3" width="6.3" height="27" rx="2.4"/><rect x="514.15" y="313.12" width="6.3" height="27" rx="2.4"/><rect x="514.15" y="364.94" width="6.3" height="27" rx="2.4"/><rect x="514.15" y="416.76" width="6.3" height="27" rx="2.4"/><rect x="514.15" y="468.58" width="6.3" height="27" rx="2.4"/><rect x="514.15" y="520.4" width="6.3" height="27" rx="2.4"/><rect x="514.15" y="572.22" width="6.3" height="27" rx="2.4"/><rect x="514.15" y="624.04" width="6.3" height="27" rx="2.4"/><rect x="514.15" y="675.86" width="6.3" height="27" rx="2.4"/><rect x="514.15" y="727.68" width="6.3" height="27" rx="2.4"/><rect x="514.15" y="779.5" width="6.3" height="27" rx="2.4"/><rect x="514.15" y="831.32" width="6.3" height="27" rx="2.4"/><rect x="514.15" y="883.14" width="6.3" height="27" rx="2.4"/><rect x="514.15" y="934.96" width="6.3" height="27" rx="2.4"/><rect x="514.15" y="986.78" width="6.3" height="27" rx="2.4"/><rect x="514.15" y="1038.6" width="6.3" height="27" rx="2.4"/><rect x="227.8" y="1066.85" width="16.9" height="6.3" rx="2.4"/><rect x="268.3" y="1066.85" width="27" height="6.3" rx="2.4"/><rect x="319" y="1066.85" width="27" height="6.3" rx="2.4"/><rect x="369.7" y="1066.85" width="27" height="6.3" rx="2.4"/><rect x="420.4" y="1066.85" width="27" height="6.3" rx="2.4"/><rect x="471.1" y="1066.85" width="27" height="6.3" rx="2.4"/><rect x="1450.9" y="267" width="6" height="28" rx="2.4"/><rect x="1450.9" y="318.7" width="6" height="28" rx="2.4"/><rect x="1450.9" y="370.4" width="6" height="28" rx="2.4"/><rect x="1450.9" y="422.1" width="6" height="28" rx="2.4"/><rect x="1450.9" y="473.8" width="6" height="28" rx="2.4"/><rect x="1450.9" y="525.5" width="6" height="28" rx="2.4"/><rect x="1450.9" y="577.2" width="6" height="28" rx="2.4"/><rect x="1450.9" y="628.9" width="6" height="28" rx="2.4"/><rect x="1450.9" y="680.6" width="6" height="28" rx="2.4"/><rect x="1450.9" y="732.3" width="6" height="28" rx="2.4"/><rect x="1450.9" y="784" width="6" height="28" rx="2.4"/><rect x="1450.9" y="835.7" width="6" height="28" rx="2.4"/><rect x="1450.9" y="887.4" width="6" height="28" rx="2.4"/><rect x="1450.9" y="939.1" width="6" height="28" rx="2.4"/><rect x="1450.9" y="990.8" width="6" height="28" rx="2.4"/><rect x="1450.9" y="1042.5" width="6" height="28" rx="2.4"/><rect x="1450.9" y="1094.2" width="6" height="28" rx="2.4"/><rect x="1450.9" y="1145.9" width="6" height="28" rx="2.4"/><rect x="1450.9" y="1197.6" width="6" height="28" rx="2.4"/><rect x="1776.9" y="278.9" width="6.8" height="28.1" rx="2.4"/><rect x="1776.9" y="330.8" width="6.8" height="28.2" rx="2.4"/><rect x="1776.9" y="382.62" width="6.8" height="28.2" rx="2.4"/><rect x="1776.9" y="434.44" width="6.8" height="28.2" rx="2.4"/><rect x="1776.9" y="486.26" width="6.8" height="28.2" rx="2.4"/><rect x="1776.9" y="538.08" width="6.8" height="28.2" rx="2.4"/><rect x="1776.9" y="589.9" width="6.8" height="28.2" rx="2.4"/><rect x="1776.9" y="641.72" width="6.8" height="28.2" rx="2.4"/><rect x="1776.9" y="693.54" width="6.8" height="28.2" rx="2.4"/><rect x="1776.9" y="745.36" width="6.8" height="28.2" rx="2.4"/><rect x="1776.9" y="797.18" width="6.8" height="28.2" rx="2.4"/><rect x="1776.9" y="849" width="6.8" height="28.2" rx="2.4"/><rect x="1776.9" y="900.82" width="6.8" height="28.2" rx="2.4"/><rect x="1776.9" y="952.64" width="6.8" height="28.2" rx="2.4"/><rect x="1776.9" y="1004.46" width="6.8" height="28.2" rx="2.4"/><rect x="1776.9" y="1056.28" width="6.8" height="28.2" rx="2.4"/><rect x="1776.9" y="1108.1" width="6.8" height="28.2" rx="2.4"/><rect x="1776.9" y="1159.92" width="6.8" height="28.2" rx="2.4"/><rect x="1776.9" y="1211.74" width="6.8" height="28.2" rx="2.4"/><rect x="1776.9" y="1263.56" width="6.8" height="28.2" rx="2.4"/><rect x="1776.9" y="1315.38" width="6.8" height="28.2" rx="2.4"/><rect x="1776.9" y="1367.2" width="6.8" height="28.2" rx="2.4"/><rect x="1776.9" y="1419.02" width="6.8" height="29.28" rx="2.4"/><rect x="1776.9" y="279" width="28.1" height="6.8" rx="2.4"/><rect x="1827.8" y="279" width="28.3" height="6.8" rx="2.4"/><rect x="1874.65" y="283" width="6.3" height="28.5" rx="2.4"/><rect x="1874.65" y="334.85" width="6.3" height="28.5" rx="2.4"/><rect x="1874.65" y="386.7" width="6.3" height="28.5" rx="2.4"/><rect x="1874.65" y="438.55" width="6.3" height="28.5" rx="2.4"/><rect x="1874.65" y="490.4" width="6.3" height="28.5" rx="2.4"/><rect x="1874.65" y="542.25" width="6.3" height="28.5" rx="2.4"/><rect x="1874.65" y="594.1" width="6.3" height="28.5" rx="2.4"/><rect x="1874.65" y="645.95" width="6.3" height="28.5" rx="2.4"/><rect x="1874.65" y="697.8" width="6.3" height="28.5" rx="2.4"/><rect x="1874.65" y="749.65" width="6.3" height="28.5" rx="2.4"/><rect x="1874.65" y="801.5" width="6.3" height="28.5" rx="2.4"/><rect x="1874.65" y="853.35" width="6.3" height="28.5" rx="2.4"/><rect x="1874.65" y="905.2" width="6.3" height="28.5" rx="2.4"/><rect x="1874.65" y="957.05" width="6.3" height="28.5" rx="2.4"/><rect x="1874.65" y="1008.9" width="6.3" height="28.5" rx="2.4"/><rect x="1874.65" y="1060.75" width="6.3" height="28.5" rx="2.4"/><rect x="1874.65" y="1112.6" width="6.3" height="28.5" rx="2.4"/><rect x="1874.65" y="1164.45" width="6.3" height="28.5" rx="2.4"/><rect x="1874.65" y="1216.3" width="6.3" height="28.5" rx="2.4"/><rect x="1874.65" y="1268.15" width="6.3" height="28.5" rx="2.4"/><rect x="1874.65" y="1320" width="6.3" height="28.5" rx="2.4"/><rect x="1874.65" y="1371.85" width="6.3" height="28.5" rx="2.4"/><rect x="0" y="-3.15" width="23.43" height="6.3" rx="2.4" transform="translate(1878 1423.8) rotate(98.1)"/><rect x="1776.9" y="1441.85" width="20.8" height="6.3" rx="2.4"/><rect x="1821.3" y="1441.85" width="27.5" height="6.3" rx="2.4"/><rect x="0" y="-3.25" width="27.7" height="6.5" rx="2.4" transform="translate(1978 248) rotate(90.09)"/><rect x="0" y="-3.25" width="27.7" height="6.5" rx="2.4" transform="translate(1977.92 299.79) rotate(90.09)"/><rect x="0" y="-3.25" width="27.7" height="6.5" rx="2.4" transform="translate(1977.84 351.58) rotate(90.09)"/><rect x="0" y="-3.25" width="27.7" height="6.5" rx="2.4" transform="translate(1977.76 403.37) rotate(90.09)"/><rect x="0" y="-3.25" width="27.7" height="6.5" rx="2.4" transform="translate(1977.68 455.16) rotate(90.09)"/><rect x="0" y="-3.25" width="27.7" height="6.5" rx="2.4" transform="translate(1977.6 506.95) rotate(90.09)"/><rect x="0" y="-3.25" width="27.7" height="6.5" rx="2.4" transform="translate(1977.51 558.74) rotate(90.09)"/><rect x="0" y="-3.25" width="27.7" height="6.5" rx="2.4" transform="translate(1977.43 610.53) rotate(90.09)"/><rect x="0" y="-3.25" width="27.7" height="6.5" rx="2.4" transform="translate(1977.35 662.32) rotate(90.09)"/><rect x="0" y="-3.25" width="27.7" height="6.5" rx="2.4" transform="translate(1977.27 714.11) rotate(90.09)"/><rect x="0" y="-3.25" width="27.7" height="6.5" rx="2.4" transform="translate(1977.19 765.9) rotate(90.09)"/><rect x="0" y="-3.25" width="27.7" height="6.5" rx="2.4" transform="translate(1977.11 817.69) rotate(90.09)"/><rect x="0" y="-3.25" width="27.7" height="6.5" rx="2.4" transform="translate(1977.03 869.48) rotate(90.09)"/><rect x="0" y="-3.25" width="27.7" height="6.5" rx="2.4" transform="translate(1976.95 921.27) rotate(90.09)"/><rect x="0" y="-3.25" width="27.7" height="6.5" rx="2.4" transform="translate(1976.87 973.06) rotate(90.09)"/><rect x="0" y="-3.25" width="27.7" height="6.5" rx="2.4" transform="translate(1976.79 1024.85) rotate(90.09)"/><rect x="0" y="-3.25" width="27.7" height="6.5" rx="2.4" transform="translate(1976.7 1076.64) rotate(90.09)"/><rect x="0" y="-3.25" width="27.7" height="6.5" rx="2.4" transform="translate(1976.62 1128.43) rotate(90.09)"/><rect x="0" y="-3.25" width="27.7" height="6.5" rx="2.4" transform="translate(1976.54 1180.22) rotate(90.09)"/>
</g>
<path fill="#000" fill-rule="evenodd" d="M188,79 L191,76 L2198,76 L2201,79 L2201,1575 L190,1575 L188,1573 Z M196,85 L196,1566 L2193,1566 L2193,85 Z"/>
<g fill="#000" shape-rendering="crispEdges">
<rect x="2041" y="1570" width="9" height="19" rx="3"/><rect x="1737" y="1570" width="9" height="19" rx="3"/><rect x="1433" y="1570" width="9" height="19" rx="3"/><rect x="1129" y="1570" width="9" height="19" rx="3"/><rect x="825" y="1570" width="9" height="19" rx="3"/><rect x="522" y="1570" width="9" height="19" rx="3"/><rect x="218" y="1570" width="9" height="19" rx="3"/><rect x="2193" y="1570" width="8" height="34" rx="3"/><rect x="1889" y="1570" width="8" height="34" rx="3"/><rect x="1585" y="1570" width="8" height="34" rx="3"/><rect x="1282" y="1570" width="8" height="34" rx="3"/><rect x="978" y="1570" width="8" height="34" rx="3"/><rect x="674" y="1570" width="8" height="34" rx="3"/><rect x="370" y="1570" width="8" height="34" rx="3"/>
</g>
<g filter="url(#aa)">
<g fill="#000">
<text x="319.96" y="1657.2" font-size="54.1" font-weight="bold" font-family='"Liberation Serif", "DejaVu Serif", serif' textLength="107.48" lengthAdjust="spacingAndGlyphs">3500</text>
<text x="622.97" y="1657.2" font-size="54.1" font-weight="bold" font-family='"Liberation Serif", "DejaVu Serif", serif' textLength="106.65" lengthAdjust="spacingAndGlyphs">3000</text>
<text x="928.4" y="1657.2" font-size="54.1" font-weight="bold" font-family='"Liberation Serif", "DejaVu Serif", serif' textLength="105.2" lengthAdjust="spacingAndGlyphs">2500</text>
<text x="1231.9" y="1657.2" font-size="54.1" font-weight="bold" font-family='"Liberation Serif", "DejaVu Serif", serif' textLength="105.09" lengthAdjust="spacingAndGlyphs">2000</text>
<text x="1535.18" y="1657.2" font-size="54.1" font-weight="bold" font-family='"Liberation Serif", "DejaVu Serif", serif' textLength="106.44" lengthAdjust="spacingAndGlyphs">1500</text>
<text x="1839.8" y="1657.2" font-size="54.1" font-weight="bold" font-family='"Liberation Serif", "DejaVu Serif", serif' textLength="105.3" lengthAdjust="spacingAndGlyphs">1000</text>
<text x="2155.05" y="1657.2" font-size="54.1" font-weight="bold" font-family='"Liberation Serif", "DejaVu Serif", serif' textLength="80.59" lengthAdjust="spacingAndGlyphs">500</text>
<text transform="scale(0.9944 1)" x="912.49 975.26 1007.64 1042.4 1072.33 1111.03 1148.25 1204.48 1243.42 1275.26" y="1821" font-size="66" font-weight="bold" font-family='"Liberation Serif", "DejaVu Serif", serif'>Wavenumber</text>
<text x="1309.27" y="1814.7" font-size="56" font-weight="bold" font-family='"Liberation Serif", "DejaVu Serif", serif' textLength="18.4" lengthAdjust="spacingAndGlyphs">(</text>
<text transform="scale(0.9808 1)" x="1353.42 1380.9" y="1821" font-size="66" font-weight="bold" font-family='"Liberation Serif", "DejaVu Serif", serif'>cm</text>
<text x="1408.51" y="1782" font-size="65.3" font-weight="bold" font-family='"Liberation Serif", "DejaVu Serif", serif' textLength="56.09" lengthAdjust="spacingAndGlyphs">-1</text>
<text x="1462.23" y="1815.5" font-size="53.8" font-weight="bold" font-family='"Liberation Serif", "DejaVu Serif", serif' textLength="18.4" lengthAdjust="spacingAndGlyphs">)</text>
<text transform="rotate(-90) scale(0.9720 1)" x="-1067.88 -1043.65 -1002.99 -979.62 -947.97 -906.3 -877.88 -855.88 -833.87 -800.12 -779.48 -758.4 -725.06 -708.59 -668.47 -652.34" y="99.1" font-size="67.5" font-weight="bold" font-family='"Liberation Serif", "DejaVu Serif", serif'>Intensity (a.u.)</text>
<text x="326.03" y="467.9" font-size="50.4" font-weight="bold" font-family='"Liberation Serif", "DejaVu Serif", serif' textLength="76.84" lengthAdjust="spacingAndGlyphs">NH</text>
<text transform="scale(0.9769 1)" x="1083.62 1120.53 1140.02 1176.17 1217.05" y="296.6" font-size="61.2" font-weight="bold" font-family='"Liberation Serif", "DejaVu Serif", serif'>SiSTP</text>
<text transform="scale(0.9966 1)" x="891.65 918.19 951.45 985.12 1018.45 1037.83 1068.89 1121.13 1149.26 1170.92" y="905.7" font-size="62" font-weight="bold" font-family='"Liberation Serif", "DejaVu Serif", serif'>copolymer-</text>
<text x="1187" y="905.7" font-size="59.6" font-weight="normal" font-family='"Liberation Serif", "Noto Serif CJK SC", serif' textLength="60" lengthAdjust="spacingAndGlyphs">Ⅲ</text>
<text transform="scale(0.9587 1)" x="1476.69 1511.06 1536.04" y="1278.3 1280.6 1278.3" font-size="50.3" font-weight="bold" font-family='"Liberation Serif", "DejaVu Serif", serif'>C=O</text>
<text x="1752.21" y="172.1" font-size="51.6" font-weight="bold" font-family='"Liberation Serif", "DejaVu Serif", serif' textLength="140.7" lengthAdjust="spacingAndGlyphs">C-O-C</text>
<text x="1752.88" y="259.2" font-size="51.6" font-weight="bold" font-family='"Liberation Serif", "DejaVu Serif", serif' textLength="99.83" lengthAdjust="spacingAndGlyphs">Si-O</text>
<text x="1929.22" y="225" font-size="51.3" font-weight="bold" font-family='"Liberation Serif", "DejaVu Serif", serif' textLength="95.64" lengthAdjust="spacingAndGlyphs">Si-C</text>
</g>
</g>
</svg>
</body></html>
